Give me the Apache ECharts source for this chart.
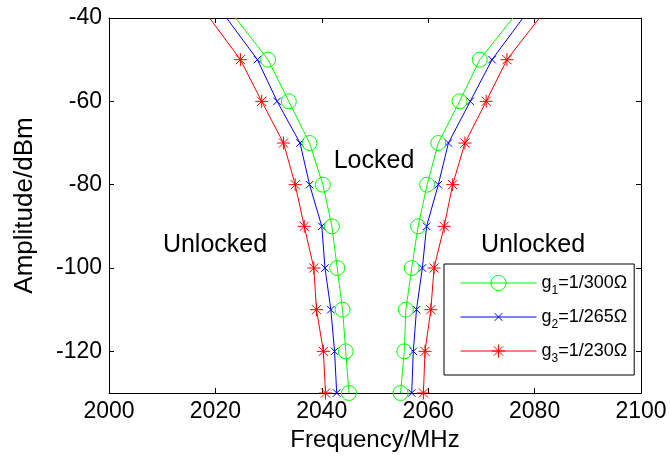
<!DOCTYPE html>
<html><head><meta charset="utf-8">
<script src="https://cdn.jsdelivr.net/npm/echarts@6/dist/echarts.min.js"></script>
<style>html,body{margin:0;padding:0;background:#fff}#c{width:670px;height:461px}</style>
</head><body><div id="c"></div>
<script>
// Amplitude levels (dBm), top to bottom
const amplitudes = [-40, -50, -60, -70, -80, -90, -100, -110, -120, -130];
// Left (lower) locking boundary, MHz
const g1Left  = [2023.8, 2029.9, 2033.8, 2037.7, 2040.2, 2041.9, 2042.9, 2043.9, 2044.5, 2045.1];
const g2Left  = [2022.1, 2027.9, 2031.6, 2035.9, 2037.7, 2040.0, 2040.6, 2041.7, 2042.4, 2042.8];
const g3Left  = [2018.9, 2024.7, 2028.7, 2032.8, 2035.0, 2036.7, 2038.5, 2039.0, 2040.3, 2040.7];
// Right (upper) locking boundary, MHz
const g1Right = [2075.9, 2069.7, 2065.9, 2061.9, 2059.8, 2058.1, 2056.9, 2055.8, 2055.5, 2054.8];
const g2Right = [2077.8, 2072.0, 2067.9, 2063.8, 2061.9, 2059.7, 2058.9, 2057.8, 2057.2, 2056.9];
const g3Right = [2080.9, 2074.8, 2070.9, 2066.9, 2064.6, 2063.0, 2061.1, 2060.5, 2059.4, 2059.1];
const seriesNames = ['g1', 'g2', 'g3'];
const legendSubs = ['1', '2', '3'];
const legendRest = ['=1/300Ω', '=1/265Ω', '=1/230Ω'];
const yTickValues = [-120, -100, -80, -60, -40];
const xMin = 2000, xMax = 2100, xStep = 20;
const yMin = -130, yMax = -40;
const regionLabels = ['Locked', 'Unlocked', 'Unlocked'];

const FONT = 'Liberation Sans, Arial, Helvetica, sans-serif';
const colors = ['#00ff00', '#0000ff', '#ff0000'];
const symbols = [
  'circle',
  'path://M0,0M15,15M3.75,3.75L11.25,11.25M11.25,3.75L3.75,11.25',
  'path://M0,0M15,15M7.5,1L7.5,14M1,7.5L14,7.5M2.9,2.9L12.1,12.1M12.1,2.9L2.9,12.1'
];
const lefts = [g1Left, g2Left, g3Left];
const rights = [g1Right, g2Right, g3Right];

function toData(xs) {
  return xs.map((x, i) => {
    const item = { value: [x, amplitudes[i]] };
    if (amplitudes[i] === yMax) item.symbol = 'none';
    return item;
  });
}

const series = [];
for (let k = 0; k < 3; k++) {
  const common = {
    type: 'line', name: seriesNames[k], symbol: symbols[k], symbolSize: 15,
    lineStyle: { color: colors[k], width: 1 },
    itemStyle: { color: 'rgba(0,0,0,0)', borderColor: colors[k], borderWidth: 1 },
    emphasis: { disabled: true }, animation: false, z: 3 - k
  };
  series.push(Object.assign({}, common, { data: toData(lefts[k]) }));
  series.push(Object.assign({}, common, { data: toData(rights[k]) }));
}

const chart = echarts.init(document.getElementById('c'), null, { renderer: 'canvas' });
const axisCommon = { show: true, lineStyle: { color: '#000', width: 1 } };
const plain = v => String(v);
chart.setOption({
  animation: false,
  backgroundColor: '#fff',
  grid: { left: 109, right: 29, top: 18, bottom: 68, containLabel: false },
  xAxis: [
    { type: 'value', min: xMin, max: xMax, interval: xStep, position: 'bottom',
      name: 'Frequency/MHz', nameLocation: 'middle', nameGap: 35,
      nameTextStyle: { fontFamily: FONT, fontSize: 24, color: '#000' },
      axisLine: axisCommon, axisTick: { inside: true, length: 5, lineStyle: { color: '#000' } },
      axisLabel: { fontFamily: FONT, fontSize: 23, color: '#000', margin: 7, formatter: plain },
      splitLine: { show: false } },
    { type: 'value', min: xMin, max: xMax, interval: xStep, position: 'top',
      axisLine: axisCommon, axisTick: { inside: true, length: 5, lineStyle: { color: '#000' } },
      axisLabel: { show: false }, splitLine: { show: false } }
  ],
  yAxis: [
    { type: 'value', min: yMin, max: yMax, position: 'left',
      name: 'Amplitude/dBm', nameLocation: 'middle', nameGap: 71,
      nameTextStyle: { fontFamily: FONT, fontSize: 26, color: '#000' },
      axisLine: axisCommon,
      axisTick: { inside: true, length: 5, lineStyle: { color: '#000' }, customValues: yTickValues },
      axisLabel: { fontFamily: FONT, fontSize: 23, color: '#000', margin: 7, customValues: yTickValues, formatter: plain },
      splitLine: { show: false } },
    { type: 'value', min: yMin, max: yMax, position: 'right',
      axisLine: axisCommon,
      axisTick: { inside: true, length: 5, lineStyle: { color: '#000' }, customValues: yTickValues },
      axisLabel: { show: false }, splitLine: { show: false } }
  ],
  legend: {
    orient: 'vertical', left: 444, top: 264,
    data: seriesNames,
    backgroundColor: '#fff', borderColor: '#000', borderWidth: 1,
    padding: [10, 7, 10, 16], itemGap: 11,
    itemWidth: 76, itemHeight: 19,
    itemStyle: { borderWidth: 1 }, lineStyle: { width: 1 },
    selectedMode: false,
    formatter: function (name) {
      const i = seriesNames.indexOf(name);
      return '{t|g}{s|' + legendSubs[i] + '}{t|' + legendRest[i] + '}';
    },
    textStyle: {
      fontFamily: FONT, fontSize: 18, color: '#000',
      rich: {
        t: { fontFamily: FONT, fontSize: 18, color: '#000', lineHeight: 28, verticalAlign: 'middle' },
        s: { fontFamily: FONT, fontSize: 12, color: '#000', lineHeight: 28, verticalAlign: 'bottom' }
      }
    }
  },
  graphic: [
    { type: 'text', x: 374, y: 161, style: { text: regionLabels[0], fontFamily: FONT, fontSize: 25, fill: '#000', align: 'center', verticalAlign: 'middle' } },
    { type: 'text', x: 215, y: 245, style: { text: regionLabels[1], fontFamily: FONT, fontSize: 25, fill: '#000', align: 'center', verticalAlign: 'middle' } },
    { type: 'text', x: 533, y: 245, style: { text: regionLabels[2], fontFamily: FONT, fontSize: 25, fill: '#000', align: 'center', verticalAlign: 'middle' } }
  ],
  series: series
});
</script></body></html>
